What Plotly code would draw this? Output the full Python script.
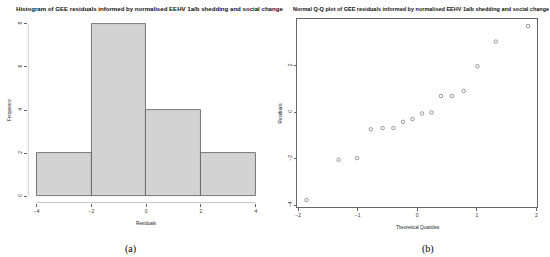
import plotly.graph_objects as go

# histogram of GEE residuals (bin edges -4..4, width 2)
bin_mids = [-3, -1, 1, 3]
bin_counts = [2, 8, 4, 2]
hist_xticks = [-4, -2, 0, 2, 4]
hist_yticks = [0, 2, 4, 6, 8]

# normal Q-Q plot values
theoretical_q = [-1.86, -1.32, -1.01, -0.78, -0.58, -0.40, -0.24, -0.08,
                 0.08, 0.24, 0.40, 0.58, 0.78, 1.01, 1.32, 1.86]
residuals = [-3.78, -2.05, -1.98, -0.74, -0.69, -0.69, -0.42, -0.30,
             -0.06, -0.02, 0.69, 0.69, 0.91, 1.97, 3.03, 3.70]
qq_xticks = [-2, -1, 0, 1, 2]
qq_yticks = [-4, -2, 0, 2]

W, H = 550, 257
def px(x):
    return x / W
def py(y):
    return 1 - y / H

sans = "Liberation Sans, Arial, sans-serif"
axis_col = "#666666"
tick_font = dict(family=sans, size=5, color="#333333")

fig = go.Figure()

fig.add_trace(go.Bar(
    x=bin_mids, y=bin_counts, width=2,
    marker=dict(color="#d3d3d3", line=dict(color="#5a5a5a", width=0.8)),
    xaxis="x", yaxis="y", showlegend=False
))

fig.add_trace(go.Scatter(
    x=theoretical_q, y=residuals, mode="markers",
    marker=dict(symbol="circle-open", size=3.5, color="#555555", line=dict(width=0.6)),
    xaxis="x2", yaxis="y2", showlegend=False
))

common = dict(showgrid=False, zeroline=False, ticks="outside", ticklen=3,
              tickwidth=0.6, tickcolor=axis_col, tickfont=tick_font)

fig.update_layout(
    width=W, height=H,
    margin=dict(l=0, r=0, t=0, b=0),
    paper_bgcolor="white", plot_bgcolor="white",
    bargap=0,
    xaxis=dict(domain=[px(26), px(264)], range=[-4.32, 4.32], anchor="y",
               tickvals=hist_xticks, showline=False, **common),
    yaxis=dict(domain=[py(203), py(17)], range=[-0.32, 8.32], anchor="x",
               tickvals=hist_yticks, showline=False, tickangle=-90, **common),
    xaxis2=dict(domain=[px(297), px(538)], range=[-2.012, 2.012], anchor="y2",
                tickvals=qq_xticks, showline=True, mirror=True,
                linecolor=axis_col, linewidth=0.7, **common),
    yaxis2=dict(domain=[py(207), py(19)], range=[-4.08, 4.0], anchor="x2",
                tickvals=qq_yticks, showline=True, mirror=True,
                linecolor=axis_col, linewidth=0.7, tickangle=-90, **common),
)

# R style axis lines that span only the ticks
fig.add_shape(type="line", xref="x", yref="y",
              x0=hist_xticks[0], x1=hist_xticks[-1], y0=-0.32, y1=-0.32,
              line=dict(color=axis_col, width=0.7))
fig.add_shape(type="line", xref="x", yref="y",
              x0=-4.32, x1=-4.32, y0=hist_yticks[0], y1=hist_yticks[-1],
              line=dict(color=axis_col, width=0.7))

def note(text, x, y, size, angle=0, bold=False, family=sans, color="#222222"):
    if bold:
        text = "<b>" + text + "</b>"
    fig.add_annotation(text=text, x=px(x), y=py(y), xref="paper", yref="paper",
                       showarrow=False, textangle=angle, xanchor="center", yanchor="middle",
                       font=dict(family=family, size=size, color=color))

note("Histogram of GEE residuals informed by normalised EEHV 1a/b shedding and social change",
     148, 9, 6.1, bold=True, color="#111111")
note("Normal Q-Q plot of GEE residuals informed by normalised EEHV 1a/b shedding and social change",
     421, 9, 5.5, bold=True, color="#111111")
note("Frequency", 7, 110, 4.6, angle=-90)
note("Residuals", 145, 223, 4.6)
note("Residuals", 280, 113, 4.6, angle=-90)
note("Theoretical Quantiles", 418, 227, 4.6)
note("(a)", 129, 249, 10, family="Liberation Serif, Times New Roman, serif", color="#000000")
note("(b)", 428, 249, 10, family="Liberation Serif, Times New Roman, serif", color="#000000")

# drop the page's default body margin so the figure sits at the window's corner
fig.write_html("out.html", config={"displayModeBar": False},
               post_script="document.body.style.margin='0';")
